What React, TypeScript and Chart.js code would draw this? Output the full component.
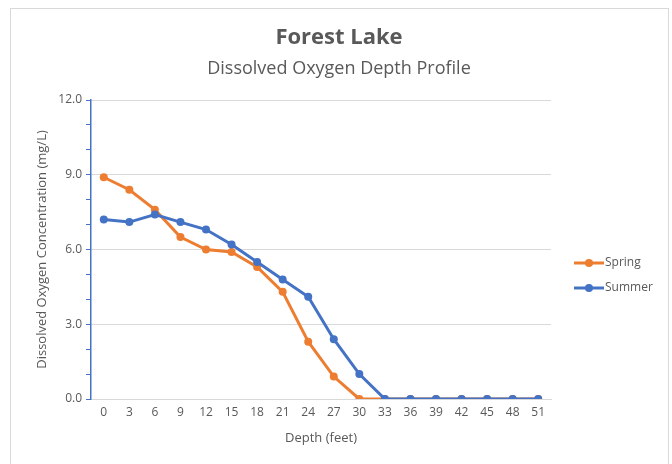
import React, { useEffect, useRef } from "react";
import { Chart, registerables } from "chart.js";

Chart.register(...registerables);

const depths = ["0", "3", "6", "9", "12", "15", "18", "21", "24", "27", "30", "33", "36", "39", "42", "45", "48", "51"];
const spring = [8.9, 8.4, 7.6, 6.5, 6.0, 5.9, 5.3, 4.3, 2.3, 0.9, 0, 0, 0, 0, 0, 0, 0, 0];
const summer = [7.2, 7.1, 7.4, 7.1, 6.8, 6.2, 5.5, 4.8, 4.1, 2.4, 1.0, 0, 0, 0, 0, 0, 0, 0];
const chartTitle = "Forest Lake";
const chartSubtitle = "Dissolved Oxygen Depth Profile";
const xTitle = "Depth (feet)";
const yTitle = "Dissolved Oxygen Concentration (mg/L)";

const FONT = "'Open Sans', sans-serif";
const TEXT = "#595959";
const GRID = "#d9d9d9";
const ORANGE = "#ED7D31";
const BLUE = "#4472C4";

const decor = {
  id: "decor",
  beforeDraw(chart: any) {
    const ctx = chart.ctx;
    ctx.save();
    ctx.fillStyle = "#ffffff";
    ctx.fillRect(0, 0, chart.width, chart.height);
    ctx.strokeStyle = GRID;
    ctx.lineWidth = 1;
    ctx.strokeRect(10.5, 8.5, 658, 480);
    ctx.restore();
  },
  afterDraw(chart: any) {
    const ctx = chart.ctx;
    ctx.save();
    ctx.fillStyle = TEXT;
    ctx.textAlign = "center";
    ctx.textBaseline = "middle";
    ctx.font = `bold 22px ${FONT}`;
    ctx.fillText(chartTitle, 339, 38);
    ctx.font = `18px ${FONT}`;
    ctx.fillText(chartSubtitle, 339, 69);
    // legend
    const items = chart.data.datasets;
    items.forEach((ds: any, i: number) => {
      const y = 263 + i * 25;
      ctx.strokeStyle = ds.borderColor;
      ctx.lineWidth = 3;
      ctx.beginPath();
      ctx.moveTo(574, y);
      ctx.lineTo(604, y);
      ctx.stroke();
      ctx.fillStyle = ds.borderColor;
      ctx.beginPath();
      ctx.arc(589, y, 4, 0, Math.PI * 2);
      ctx.fill();
      ctx.fillStyle = TEXT;
      ctx.textAlign = "left";
      ctx.font = `12px ${FONT}`;
      ctx.fillText(ds.label, 605, y);
    });
    ctx.restore();
  },
};

export default function App() {
  const ref = useRef<HTMLCanvasElement | null>(null);
  useEffect(() => {
    document.body.style.margin = "0";
    if (!ref.current) return;
    const chart = new Chart(ref.current, {
      type: "line",
      data: {
        labels: depths,
        datasets: [
          {
            label: "Spring",
            data: spring,
            borderColor: ORANGE,
            backgroundColor: ORANGE,
            borderWidth: 3,
            pointRadius: 4,
            pointBorderWidth: 0,
            pointBackgroundColor: ORANGE,
            order: 1,
          },
          {
            label: "Summer",
            data: summer,
            borderColor: BLUE,
            backgroundColor: BLUE,
            borderWidth: 3,
            pointRadius: 4,
            pointBorderWidth: 0,
            pointBackgroundColor: BLUE,
            order: 0,
          },
        ],
      },
      options: {
        animation: false,
        responsive: false,
        maintainAspectRatio: false,
        layout: { padding: { left: 30, top: 100, right: 121, bottom: 0 } },
        plugins: {
          legend: { display: false },
          title: { display: false },
          tooltip: { enabled: false },
        },
        scales: {
          x: {
            type: "category",
            offset: true,
            grid: { display: false, drawTicks: false },
            border: { display: true, color: GRID, width: 1 },
            ticks: { color: TEXT, font: { family: FONT, size: 12 }, padding: 6, maxRotation: 0, autoSkip: false },
            title: { display: true, text: xTitle, color: TEXT, font: { family: FONT, size: 13 }, padding: { top: 0, bottom: 18 } },
            afterFit: (s: any) => { s.height = 65; },
          },
          y: {
            min: 0,
            max: 12,
            ticks: {
              stepSize: 1,
              color: TEXT,
              font: { family: FONT, size: 12 },
              padding: 4,
              callback: (v: any) => (Number(v) % 3 === 0 ? Number(v).toFixed(1) : ""),
            },
            grid: {
              color: (c: any) => (c.tick && c.tick.value % 3 === 0 ? GRID : "rgba(0,0,0,0)"),
              tickColor: BLUE,
              tickLength: 5,
              lineWidth: 1,
            },
            border: { display: true, color: BLUE, width: 1.5 },
            title: { display: true, text: yTitle, color: TEXT, font: { family: FONT, size: 13 }, padding: { top: 4, bottom: 0 } },
            afterFit: (s: any) => { s.width = 61; },
          },
        },
      },
      plugins: [decor],
    });
    return () => chart.destroy();
  }, []);
  return <canvas ref={ref} width={672} height={464} style={{ display: "block" }} />;
}
